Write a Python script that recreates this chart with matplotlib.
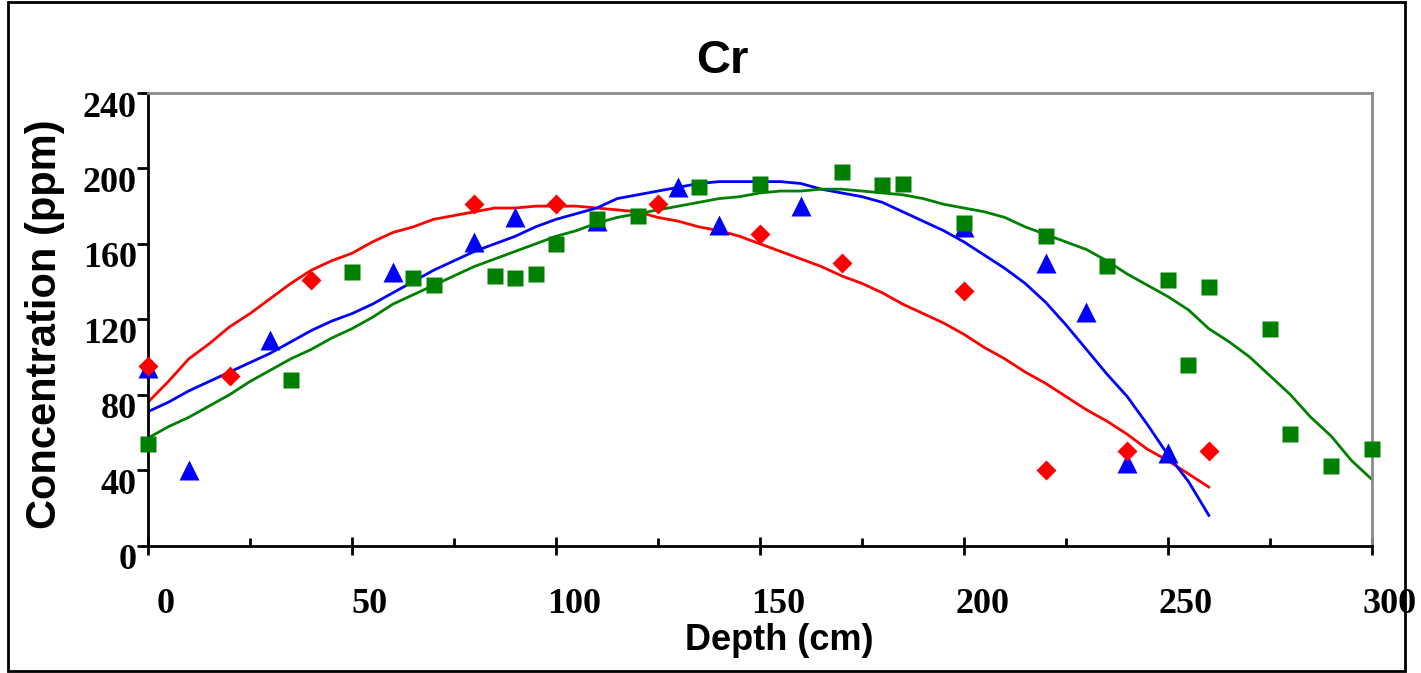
import matplotlib
matplotlib.use('Agg')
import matplotlib.pyplot as plt
from matplotlib.patches import Rectangle
from matplotlib.transforms import ScaledTranslation

# measured points (depth cm, concentration ppm)
red_x = [0, 20, 40, 80, 100, 125, 150, 170, 200, 220, 240, 260]
red_y = [95, 90, 141, 181, 181, 181, 165, 150, 135, 40, 50, 50]

blue_x = [0, 10, 30, 60, 80, 90, 110, 130, 140, 160, 200, 220, 230, 240, 250]
blue_y = [94, 40, 109, 145, 161, 174, 172, 190, 170, 180, 169, 150, 124, 44, 49]

green_x = [0, 35, 50, 65, 70, 85, 90, 95, 100, 110, 120, 135, 150, 170, 180, 185,
           200, 220, 235, 250, 255, 260, 275, 280, 290, 300]
green_y = [54, 88, 145, 142, 138, 143, 142, 144, 160, 173, 175, 190, 192, 198, 191, 192,
           171, 164, 148, 141, 96, 137, 115, 59, 42, 51]

# fitted trend lines
red_fit_x = list(range(0, 261, 5))
red_fit_y = [76, 87, 99, 107, 116, 123, 131, 139, 146, 151, 155, 161, 166, 169, 173, 175,
             177, 179, 179, 180, 180, 180, 179, 178, 177, 174, 172, 169, 167, 164, 160, 156,
             152, 148, 143, 139, 134, 128, 123, 118, 112, 105, 99, 92, 86, 79, 72, 66, 59,
             51, 45, 38, 31]

blue_fit_x = list(range(0, 261, 5))
blue_fit_y = [71, 76, 82, 87, 92, 97, 102, 108, 114, 119, 123, 128, 134, 140, 146, 151,
              156, 160, 164, 169, 173, 176, 179, 184, 186, 188, 190, 192, 193, 193, 193, 193,
              192, 189, 187, 185, 182, 177, 172, 167, 161, 154, 147, 139, 129, 117, 104, 91,
              79, 64, 48, 34, 16]

green_fit_x = list(range(0, 301, 5))
green_fit_y = [57, 63, 68, 74, 80, 87, 93, 99, 104, 110, 115, 121, 128, 133, 138, 143,
               148, 152, 156, 160, 164, 167, 171, 174, 176, 178, 180, 182, 184, 185, 187, 188,
               188, 189, 189, 188, 187, 186, 184, 181, 179, 177, 174, 169, 165, 161, 157, 151,
               144, 138, 132, 125, 115, 108, 100, 90, 80, 68, 58, 45, 35]

RED = '#ff0000'
BLUE = '#0000ff'
GREEN = '#008000'

fig = plt.figure(figsize=(14.21, 6.73), dpi=100)
ax = fig.add_axes([0.10415, 0.18945, 0.86137, 0.67236])

ax.plot(red_fit_x, red_fit_y, color=RED, lw=2, zorder=2)
ax.plot(blue_fit_x, blue_fit_y, color=BLUE, lw=2, zorder=2)
ax.plot(green_fit_x, green_fit_y, color=GREEN, lw=2, zorder=2)

ax.plot(blue_x, blue_y, '^', color=BLUE, ms=14, mec='none', zorder=3, clip_on=False)
ax.plot(green_x, green_y, 's', color=GREEN, ms=12, mec='none', zorder=4, clip_on=False)
ax.plot(red_x, red_y, 'D', color=RED, ms=10, mec='none', zorder=5, clip_on=False)

ax.set_xlim(0, 300)
ax.set_ylim(0, 240)
ax.set_xticks(range(0, 301, 50))
ax.set_xticks(range(25, 300, 50), minor=True)
ax.set_yticks(range(0, 241, 40))

for side in ['left', 'bottom']:
    ax.spines[side].set_color('black')
    ax.spines[side].set_linewidth(2)
for side in ['top', 'right']:
    ax.spines[side].set_color('#8c8c8c')
    ax.spines[side].set_linewidth(2)

ax.tick_params(axis='x', which='major', direction='inout', length=13, width=2, pad=24)
ax.tick_params(axis='x', which='minor', direction='in', length=6, width=2)
ax.tick_params(axis='y', which='major', direction='out', length=8, width=2, pad=0)

tick_font = dict(family='Liberation Serif', weight='bold', size=26)
for lab in ax.get_xticklabels() + ax.get_yticklabels():
    lab.set_fontproperties(tick_font)
for t in ax.xaxis.get_major_ticks():
    t.label1.set_transform(t.label1.get_transform() + ScaledTranslation(0.18, 0, fig.dpi_scale_trans))
for t in ax.yaxis.get_major_ticks():
    t.label1.set_transform(t.label1.get_transform() + ScaledTranslation(0, -0.11, fig.dpi_scale_trans))

label_font = dict(family='Liberation Sans', weight='bold')
ax.set_xlabel('Depth (cm)', fontsize=26, **label_font)
ax.xaxis.set_label_coords(0.516, -0.172)
ax.set_ylabel('Concentration (ppm)', fontsize=30, **label_font)
ax.yaxis.set_label_coords(-0.068, 0.49)

fig.text(722 / 1421, 1 - 73 / 673, 'Cr', ha='center', va='baseline', fontsize=34, **label_font)

# outer frame around the whole chart
fig.patches.append(Rectangle((8 / 1421, 2 / 673), 1397 / 1421, 669 / 673,
                             transform=fig.transFigure, fill=False, ec='black', lw=2))

fig.savefig('out.png', dpi=100)
